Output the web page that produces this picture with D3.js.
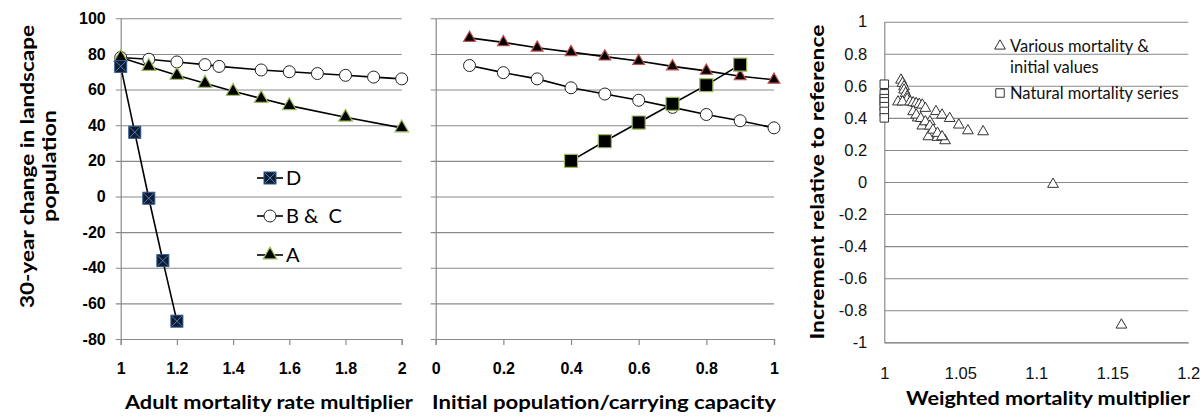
<!DOCTYPE html>
<html><head><meta charset="utf-8">
<script src="https://cdn.jsdelivr.net/npm/d3@7"></script>
<style>
body{margin:0;background:#fff;}
svg{display:block;font-family:Lato,"Open Sans",sans-serif;}
</style></head>
<body><svg id="c" width="1204" height="418"></svg>
<script>
// ---------- data ----------
const yTicks = [100, 80, 60, 40, 20, 0, -20, -40, -60, -80];
const leftXTicks = [1, 1.2, 1.4, 1.6, 1.8, 2];
const midXTicks = [0, 0.2, 0.4, 0.6, 0.8, 1];
const rightXTicks = [1, 1.05, 1.1, 1.15, 1.2];
const rightYTicks = [1, 0.8, 0.6, 0.4, 0.2, 0, -0.2, -0.4, -0.6, -0.8, -1];

const dX = [1, 1.05, 1.1, 1.15, 1.2];
const dY = [73, 36, -1, -36, -70];
const bcX = [1, 1.1, 1.2, 1.3, 1.35, 1.5, 1.6, 1.7, 1.8, 1.9, 2];
const bcY = [78, 77, 75.5, 74, 73, 71, 70, 69, 68, 67, 66];
const aX = [1, 1.1, 1.2, 1.3, 1.4, 1.5, 1.6, 1.8, 2];
const aY = [78, 73, 68, 63.5, 59, 55, 51, 44.5, 38.5];

const midX = [0.1, 0.2, 0.3, 0.4, 0.5, 0.6, 0.7, 0.8, 0.9, 1.0];
const midTriY = [89, 86.5, 83.5, 81, 78.5, 76, 73, 70.5, 67.5, 65.5];
const midCircY = [73.5, 69.5, 66, 61, 57.5, 54, 50, 46, 42.5, 38.5];
const midSqX = [0.4, 0.5, 0.6, 0.7, 0.8, 0.9];
const midSqY = [20, 31, 41.5, 52, 62.5, 74];

const natX = [1, 1, 1, 1, 1, 1, 1];
const natY = [0.61, 0.55, 0.52, 0.50, 0.47, 0.44, 0.40];
const varX = [1.011, 1.012, 1.013, 1.013, 1.014, 1.015, 1.015,
              1.009, 1.012,
              1.017, 1.019, 1.021, 1.023, 1.025,
              1.027, 1.034, 1.038, 1.043, 1.049, 1.055, 1.065, 1.025, 1.029, 1.035, 1.040, 1.022, 1.030,
              1.019, 1.021, 1.024, 1.027, 1.030, 1.032, 1.035, 1.038,
              1.111, 1.156];
const varY = [0.636, 0.616, 0.595, 0.574, 0.553, 0.532, 0.516,
              0.50, 0.50,
              0.50, 0.495, 0.49, 0.485, 0.48,
              0.46, 0.44, 0.418, 0.397, 0.356, 0.32, 0.314, 0.35, 0.283, 0.279, 0.258, 0.40, 0.376,
              0.439, 0.418, 0.397, 0.376, 0.349, 0.324, 0.304, 0.283,
              -0.014, -0.892];

// ---------- drawing ----------
const svg = d3.select("#c");
const GRID = "#8a8a8a";

const yL = d3.scaleLinear().domain([-80, 100]).range([339, 18.3]);
const xL = d3.scaleLinear().domain([1, 2]).range([120.7, 401.7]);
const xM = d3.scaleLinear().domain([0, 1]).range([435.7, 774]);
const xR = d3.scaleLinear().domain([1, 1.2]).range([884.3, 1188.3]);
const yR = d3.scaleLinear().domain([-1, 1]).range([342.3, 21.7]);

function styleAxis(g){
  g.select(".domain").attr("stroke", GRID).attr("stroke-width", 1.2);
  g.selectAll(".tick line").attr("stroke", GRID).attr("stroke-width", 1.2);
}

function panelGrid(x, y, ticks, tickLen){
  const g = svg.append("g").attr("transform", `translate(${x.range()[0]},0)`)
    .call(d3.axisLeft(y).tickValues(ticks).tickSize(0).tickFormat(""));
  g.select(".domain").remove();
  g.selectAll(".tick line").attr("stroke", GRID).attr("stroke-width", 1.1)
    .attr("x1", -tickLen).attr("x2", x.range()[1] - x.range()[0]);
  return g;
}

// Left panel
panelGrid(xL, yL, yTicks, 5);
const gLy = svg.append("g").attr("transform", `translate(${xL.range()[0]},0)`)
  .call(d3.axisLeft(yL).tickValues(yTicks).tickSize(0).tickPadding(15).tickFormat(d => String(d)));
styleAxis(gLy);
gLy.selectAll("text").attr("font-size", 16).attr("font-weight", "bold").attr("fill", "#000");
const gLx = svg.append("g").attr("transform", `translate(0,${yL(-80)})`)
  .call(d3.axisBottom(xL).tickValues(leftXTicks).tickSize(6).tickPadding(18).tickFormat(d => String(d)));
styleAxis(gLx);
gLx.selectAll("text").attr("font-size", 16).attr("font-weight", "bold").attr("fill", "#000");

// Middle panel
panelGrid(xM, yL, yTicks, 5);
const gMy = svg.append("g").attr("transform", `translate(${xM.range()[0]},0)`)
  .call(d3.axisLeft(yL).tickValues(yTicks).tickSize(0).tickFormat(""));
styleAxis(gMy);
const gMx = svg.append("g").attr("transform", `translate(0,${yL(-80)})`)
  .call(d3.axisBottom(xM).tickValues(midXTicks).tickSize(6).tickPadding(18).tickFormat(d => String(d)));
styleAxis(gMx);
gMx.selectAll("text").attr("font-size", 16).attr("font-weight", "bold").attr("fill", "#000");

// Right panel
panelGrid(xR, yR, rightYTicks, 0);
const gRy = svg.append("g").attr("transform", `translate(${xR.range()[0]},0)`)
  .call(d3.axisLeft(yR).tickValues(rightYTicks).tickSize(0).tickPadding(17).tickFormat(d => String(d)));
styleAxis(gRy);
gRy.selectAll("text").attr("font-size", 16.5).attr("fill", "#111");
const gRx = svg.append("g").attr("transform", `translate(0,${yR(-1)})`)
  .call(d3.axisBottom(xR).tickValues(rightXTicks).tickSize(0).tickPadding(25).tickFormat(d => String(d)));
styleAxis(gRx);
gRx.selectAll("text").attr("font-size", 16.5).attr("fill", "#111");

// ---------- series ----------
const line = (xs, ys, x, y) => d3.line()(xs.map((v, i) => [x(v), y(ys[i])]));
function drawLine(xs, ys, x, y){
  svg.append("path").attr("d", line(xs, ys, x, y)).attr("fill", "none").attr("stroke", "#000").attr("stroke-width", 1.6);
}
const tri = (s) => d3.symbol().type(d3.symbolTriangle).size(s)();
const sq = (s) => d3.symbol().type(d3.symbolSquare).size(s)();

function markD(g){
  g.append("rect").attr("x", -6).attr("y", -6).attr("width", 12).attr("height", 12)
    .attr("fill", "#0f1c31").attr("stroke", "#33598a").attr("stroke-width", 1);
  g.append("path").attr("d", "M-5,-5L5,5M5,-5L-5,5").attr("stroke", "#4a7fc0").attr("stroke-width", 1);
}
function markCircle(g){
  g.append("circle").attr("r", 6).attr("fill", "#fff").attr("stroke", "#222").attr("stroke-width", 1);
}
function markA(g){
  g.append("path").attr("d", tri(80)).attr("fill", "#000").attr("stroke", "#9bbb59").attr("stroke-width", 1.2);
}
function markRed(g){
  g.append("path").attr("d", tri(60)).attr("fill", "#000").attr("stroke", "#c0504d").attr("stroke-width", 1.2);
}
function markSq(g){
  g.append("path").attr("d", sq(170)).attr("fill", "#000").attr("stroke", "#9bbb59").attr("stroke-width", 1.2);
}
function markOpenTri(g){
  g.append("path").attr("d", tri(50)).attr("fill", "#fff").attr("stroke", "#333").attr("stroke-width", 1);
}
function markOpenSq(g){
  g.append("path").attr("d", sq(72)).attr("fill", "#fff").attr("stroke", "#333").attr("stroke-width", 1);
}
function drawMarks(xs, ys, x, y, fn){
  xs.forEach((v, i) => {
    const g = svg.append("g").attr("transform", `translate(${x(v)},${y(ys[i])})`);
    fn(g);
  });
}

// left
drawLine(bcX, bcY, xL, yL);
drawLine(aX, aY, xL, yL);
drawLine(dX, dY, xL, yL);
drawMarks(bcX, bcY, xL, yL, markCircle);
drawMarks(aX, aY, xL, yL, markA);
drawMarks(dX, dY, xL, yL, markD);

// middle
drawLine(midX, midTriY, xM, yL);
drawLine(midX, midCircY, xM, yL);
drawLine(midSqX, midSqY, xM, yL);
drawMarks(midX, midCircY, xM, yL, markCircle);
drawMarks(midX, midTriY, xM, yL, markRed);
drawMarks(midSqX, midSqY, xM, yL, markSq);

// right
drawMarks(natX, natY, xR, yR, markOpenSq);
drawMarks(varX, varY, xR, yR, markOpenTri);

// ---------- legends ----------
const legL = [{t: "D", f: markD, y: 178}, {t: "B &  C", f: markCircle, y: 216}, {t: "A", f: markA, y: 255}];
legL.forEach(d => {
  svg.append("line").attr("x1", 257).attr("x2", 283).attr("y1", d.y).attr("y2", d.y).attr("stroke", "#000").attr("stroke-width", 1.6);
  const g = svg.append("g").attr("transform", `translate(270,${d.y})`); d.f(g);
  svg.append("text").attr("x", 286).attr("y", d.y).attr("dy", "0.36em").attr("font-size", 20).attr("fill", "#000")
    .attr("xml:space", "preserve").style("white-space", "pre").text(d.t);
});

const gl1 = svg.append("g").attr("transform", "translate(1000,46)"); markOpenTri(gl1);
svg.append("text").attr("x", 1010).attr("y", 46).attr("dy", "0.36em").attr("font-size", 16.5).attr("fill", "#111").text("Various mortality &");
svg.append("text").attr("x", 1010).attr("y", 67).attr("dy", "0.36em").attr("font-size", 16.5).attr("fill", "#111").text("initial values");
const gl2 = svg.append("g").attr("transform", "translate(1000,93)"); markOpenSq(gl2);
svg.append("text").attr("x", 1010).attr("y", 93).attr("dy", "0.36em").attr("font-size", 16.5).attr("fill", "#111").text("Natural mortality series");

// ---------- titles ----------
function title(txt, x, y, len, rot){
  const t = svg.append("text").attr("font-size", 18).attr("font-weight", "bold").attr("fill", "#000")
    .attr("text-anchor", "middle").attr("textLength", len).attr("lengthAdjust", "spacingAndGlyphs").text(txt);
  if (rot) t.attr("transform", `translate(${x},${y}) rotate(-90)`);
  else t.attr("x", x).attr("y", y);
}
title("Adult mortality rate multiplier", 269, 409, 288);
title("Initial population/carrying capacity", 604, 409, 344);
title("Weighted mortality multiplier", 1048, 405, 284);
title("30-year change in landscape", 34, 166.5, 283, true);
title("population", 56, 166, 112, true);
title("Increment relative to reference", 824, 182, 315, true);
</script></body></html>
